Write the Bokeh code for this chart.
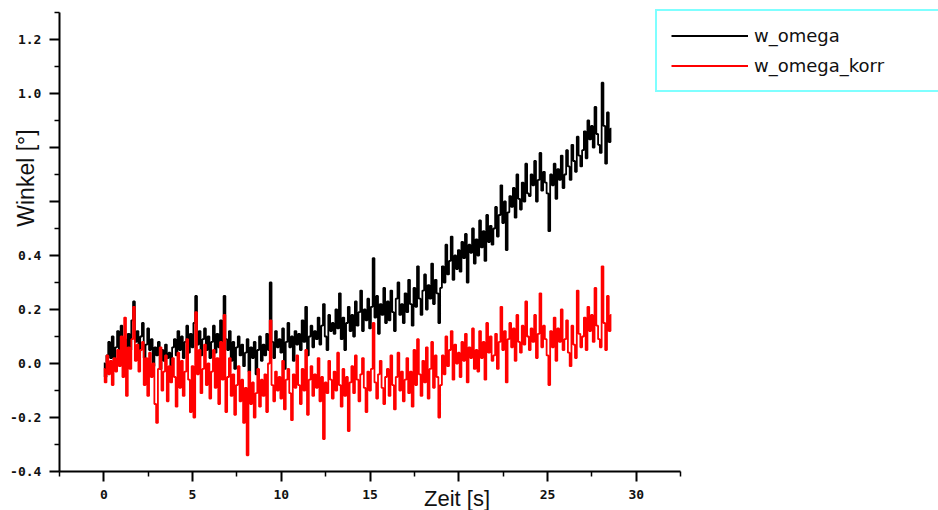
import math
from bokeh.plotting import figure
from bokeh.models import Range1d, FixedTicker, Legend, LegendItem, Label, LinearAxis
from bokeh.embed import file_html
from bokeh.resources import INLINE

w_omega = [
    0.00, -0.05, 0.03, 0.08, 0.02, 0.10, -0.02, 0.06, 0.12, 0.04,
    0.14, 0.03, 0.09, -0.01, 0.11, 0.05, 0.16, 0.23, 0.08, 0.12,
    0.04, 0.10, 0.15, 0.02, 0.07, 0.13, 0.05, 0.09, -0.01, 0.06,
    0.03, 0.08, -0.02, 0.05, 0.01, 0.07, 0.02, 0.04, -0.01, 0.06,
    0.09, 0.03, 0.12, 0.05, 0.10, 0.02, 0.08, 0.14, 0.04, 0.11,
    0.06, 0.15, 0.25, 0.07, 0.12, 0.03, 0.09, 0.13, 0.05, 0.10,
    0.02, 0.08, 0.14, 0.04, 0.11, 0.06, 0.16, 0.07, 0.25, 0.09,
    0.05, 0.12, 0.01, 0.08, -0.02, 0.06, 0.10, 0.03, 0.07, -0.01,
    0.04, 0.09, -0.03, 0.06, 0.02, 0.08, -0.04, 0.05, 0.10, 0.01,
    0.07, 0.03, 0.11, 0.05, 0.30, 0.08, 0.02, 0.12, 0.06, 0.09,
    0.04, 0.13, -0.02, 0.08, 0.15, 0.06, 0.10, 0.01, 0.12, 0.07,
    0.11, 0.05, 0.16, 0.08, 0.21, 0.03, 0.10, 0.14, 0.06, 0.12,
    0.09, 0.17, 0.07, 0.14, 0.22, 0.10, 0.05, 0.18, 0.12, 0.15,
    0.11, 0.20, 0.13, 0.26, 0.09, 0.17, 0.05, 0.15, 0.21, 0.12,
    0.18, 0.10, 0.23, 0.14, 0.19, 0.27, 0.12, 0.20, 0.16, 0.24,
    0.13, 0.21, 0.39, 0.17, 0.25, 0.11, 0.22, 0.18, 0.28, 0.15,
    0.23, 0.16, 0.27, 0.19, 0.12, 0.24, 0.30, 0.18, 0.22, 0.15,
    0.26, 0.19, 0.31, 0.22, 0.14, 0.28, 0.21, 0.36, 0.24, 0.18,
    0.27, 0.33, 0.20, 0.29, 0.24, 0.37, 0.22, 0.31, 0.26, 0.15,
    0.28, 0.36, 0.30, 0.44, 0.33, 0.38, 0.47, 0.31, 0.40, 0.35,
    0.42, 0.34, 0.45, 0.39, 0.48, 0.30, 0.44, 0.41, 0.50, 0.37,
    0.46, 0.40, 0.53, 0.43, 0.49, 0.38, 0.55, 0.45, 0.51, 0.44,
    0.50, 0.58, 0.47, 0.55, 0.66, 0.52, 0.60, 0.42, 0.56, 0.62,
    0.58, 0.65, 0.54, 0.70, 0.61, 0.57, 0.67, 0.60, 0.74, 0.63,
    0.62, 0.70, 0.66, 0.75, 0.60, 0.68, 0.78, 0.64, 0.71, 0.67,
    0.63, 0.49, 0.70, 0.66, 0.74, 0.61, 0.72, 0.68, 0.77, 0.65,
    0.70, 0.79, 0.73, 0.68, 0.81, 0.75, 0.71, 0.84, 0.77, 0.73,
    0.79, 0.86, 0.76, 0.90, 0.83, 0.88, 0.80, 0.95, 0.85, 0.81,
    0.78, 1.04, 0.88, 0.74, 0.93, 0.82, 0.87,
]

w_omega_korr = [
    -0.02, -0.07, 0.03, -0.04, 0.01, -0.08, 0.02, -0.03, 0.05, -0.01,
    0.10, -0.05, 0.17, -0.12, 0.06, -0.02, 0.09, 0.21, 0.01, 0.07,
    -0.03, 0.05, 0.08, -0.08, 0.02, -0.12, 0.04, -0.05, 0.00, -0.15,
    -0.22, -0.02, 0.06, -0.10, -0.03, 0.03, -0.14, -0.01, -0.07, 0.02,
    -0.05, -0.16, 0.04, -0.09, 0.01, -0.12, -0.03, 0.09, -0.06, -0.18,
    -0.01, -0.20, 0.19, -0.04, 0.05, -0.11, -0.02, 0.07, -0.08, 0.00,
    -0.13, -0.03, 0.05, -0.09, 0.02, -0.15, 0.08, -0.06, 0.18, -0.18,
    -0.05, 0.02, -0.12, -0.04, -0.19, -0.08, -0.01, -0.14, -0.06, -0.22,
    -0.09, -0.34, -0.03, -0.15, -0.07, -0.20, -0.11, -0.02, -0.16, -0.06,
    -0.12, -0.04, -0.18, 0.00, 0.16, -0.08, -0.14, -0.03, -0.10, -0.05,
    -0.13, 0.01, -0.17, -0.06, -0.02, -0.11, -0.21, -0.04, -0.09, 0.03,
    -0.08, -0.15, -0.02, -0.10, 0.05, -0.19, -0.06, -0.01, -0.12, -0.04,
    -0.09, 0.02, -0.14, -0.05, -0.28, -0.07, -0.11, 0.01, -0.06, -0.13,
    -0.03, -0.10, 0.04, -0.08, -0.16, -0.02, -0.12, -0.05, -0.25, -0.07,
    -0.01, -0.11, 0.03, -0.06, -0.14, -0.04, 0.02, -0.09, -0.18, -0.03,
    -0.10, -0.02, 0.15, -0.07, -0.13, -0.04, 0.01, -0.09, -0.15, -0.05,
    -0.02, -0.12, 0.03, -0.08, -0.17, -0.05, 0.04, -0.10, -0.03, -0.14,
    -0.06, 0.02, -0.11, -0.03, -0.16, 0.05, -0.08, 0.09, -0.04, -0.12,
    0.01, -0.07, 0.06, -0.13, -0.02, 0.08, -0.09, 0.03, -0.05, -0.20,
    -0.08, 0.03, -0.04, 0.10, -0.01, 0.05, 0.12, -0.06, 0.07, 0.00,
    0.04, -0.05, 0.08, 0.01, 0.11, -0.07, 0.06, 0.02, 0.13, -0.02,
    0.05, -0.03, 0.12, 0.02, 0.08, -0.06, 0.15, 0.04, 0.10, 0.01,
    0.03, 0.11, -0.02, 0.08, 0.21, 0.05, 0.12, -0.07, 0.09, 0.15,
    0.06, 0.13, 0.01, 0.18, 0.08, 0.04, 0.14, 0.07, 0.23, 0.10,
    0.05, 0.13, 0.08, 0.18, 0.02, 0.11, 0.26, 0.06, 0.14, 0.09,
    0.03, -0.08, 0.12, 0.06, 0.17, 0.01, 0.13, 0.08, 0.20, 0.05,
    0.09, 0.16, 0.04, -0.01, 0.14, 0.07, 0.02, 0.27, 0.11, 0.06,
    0.10, 0.17, 0.05, 0.21, 0.12, 0.18, 0.08, 0.28, 0.14, 0.09,
    0.06, 0.36, 0.15, 0.05, 0.25, 0.12, 0.18,
]

sample_step = 0.1
zeit = [round(i * sample_step, 1) for i in range(len(w_omega))]

x_major = [0, 5, 10, 15, 20, 25, 30]
x_minor = [-2.5, 2.5, 7.5, 12.5, 17.5, 22.5, 27.5, 32.5]
x_labels = {0: "0", 5: "5", 10: "10", 15: "15", 20: "", 25: "25", 30: "30"}
y_major = [-0.4, -0.2, 0.0, 0.2, 0.4, 0.6, 0.8, 1.0, 1.2]
y_minor = [-0.3, -0.1, 0.1, 0.3, 0.5, 0.7, 0.9, 1.1, 1.3]
y_labels = {-0.4: "-0.4", -0.2: "-0.2", 0.0: "0.0", 0.2: "0.2", 0.4: "0.4",
            0.6: "", 0.8: "", 1.0: "1.0", 1.2: "1.2"}

series_names = ["w_omega", "w_omega_korr"]
series_colors = ["#000000", "#FF0000"]

W, H = 938, 510
p = figure(width=W, height=H, output_backend="svg", toolbar_location=None,
           x_axis_location=None, y_axis_location=None,
           x_range=Range1d(-5.82, 47.03), y_range=Range1d(-0.5444, 1.3444),
           min_border=0)
p.title.visible = False
p.outline_line_color = None
p.background_fill_color = "white"
p.border_fill_color = "white"
p.xgrid.visible = False
p.ygrid.visible = False

xaxis = LinearAxis(fixed_location=-0.4, bounds=(-2.5, 32.5),
                   ticker=FixedTicker(ticks=x_major, minor_ticks=x_minor),
                   major_label_overrides=x_labels)
yaxis = LinearAxis(fixed_location=-2.5, bounds=(-0.4, 1.3),
                   ticker=FixedTicker(ticks=y_major, minor_ticks=y_minor),
                   major_label_overrides=y_labels)
for ax in (xaxis, yaxis):
    ax.axis_line_width = 2
    ax.axis_line_color = "black"
    ax.major_tick_line_width = 2
    ax.minor_tick_line_width = 1.5
    ax.major_tick_line_color = "black"
    ax.minor_tick_line_color = "black"
    ax.major_tick_out = 10
    ax.major_tick_in = 0
    ax.minor_tick_out = 5
    ax.minor_tick_in = 0
    ax.major_label_text_font = "DejaVu Sans Mono"
    ax.major_label_text_font_style = "bold"
    ax.major_label_text_font_size = "13px"
    ax.major_label_text_color = "#111111"
    ax.major_label_standoff = 8
p.add_layout(xaxis, "below")
p.add_layout(yaxis, "left")

renderers = []
for values, color in zip([w_omega, w_omega_korr], series_colors):
    r = p.step(zeit, values, mode="center", line_color=color, line_width=1.8)
    renderers.append(r)

legend = Legend(items=[LegendItem(label=n, renderers=[r]) for n, r in zip(series_names, renderers)],
                location=(655, 418))
legend.border_line_color = "#00FFFF"
legend.border_line_width = 2
legend.background_fill_color = "white"
legend.background_fill_alpha = 1.0
legend.padding = 14
legend.spacing = 9
legend.margin = 0
legend.glyph_width = 77
legend.glyph_height = 21
legend.label_height = 21
legend.label_width = 240
legend.label_standoff = 6
legend.label_text_font = "DejaVu Sans"
legend.label_text_font_size = "18px"
legend.label_text_color = "#111111"
p.add_layout(legend, "center")

x_title = Label(x=19.9, y=-0.4, y_offset=-14, text="Zeit [s]",
                text_align="center", text_baseline="top",
                text_font="Liberation Sans", text_font_size="22px", text_color="#111111")
y_title = Label(x=-4.36, y=0.687, text="Winkel [°]", angle=math.pi / 2,
                text_align="center", text_baseline="middle",
                text_font="Liberation Sans", text_font_size="23px", text_color="#111111")
p.add_layout(x_title)
p.add_layout(y_title)

open("out.html", "w").write(file_html(p, INLINE))
